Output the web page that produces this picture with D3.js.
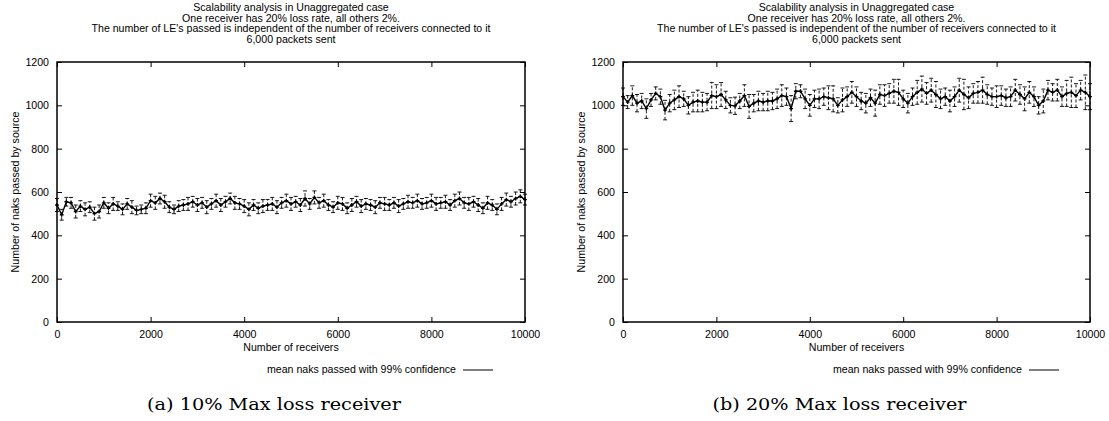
<!DOCTYPE html>
<html>
<head>
<meta charset="utf-8">
<script src="https://cdn.jsdelivr.net/npm/d3@7"></script>
<style>
  body { margin: 0; background: #fff; }
  svg { display: block; }
  .tick-label { font-family: "Liberation Sans", Arial, sans-serif; font-size: 10.6px; fill: #000; }
  .caption { font-family: "DejaVu Serif", serif; font-size: 16px; fill: #000; }
</style>
</head>
<body>
<script>
// x values (number of receivers)
var receivers = [0,100,200,300,400,500,600,700,800,900,1000,
    1100,1200,1300,1400,1500,1600,1700,1800,1900,2000,
    2100,2200,2300,2400,2500,2600,2700,2800,2900,3000,
    3100,3200,3300,3400,3500,3600,3700,3800,3900,4000,
    4100,4200,4300,4400,4500,4600,4700,4800,4900,5000,
    5100,5200,5300,5400,5500,5600,5700,5800,5900,6000,
    6100,6200,6300,6400,6500,6600,6700,6800,6900,7000,
    7100,7200,7300,7400,7500,7600,7700,7800,7900,8000,
    8100,8200,8300,8400,8500,8600,8700,8800,8900,9000,
    9100,9200,9300,9400,9500,9600,9700,9800,9900,10000];

// (a) 10% max loss receiver: mean naks and 99% half-width
var naks10 = [540,495,555,550,510,535,520,530,500,510,550,
    525,545,535,520,545,530,515,520,525,560,
    550,570,555,530,520,535,540,545,555,540,
    550,530,545,560,540,555,570,550,545,535,
    520,540,525,535,540,545,530,550,560,545,
    555,540,570,545,575,550,560,540,530,550,
    545,525,540,555,535,545,540,530,550,545,
    540,550,535,545,555,550,560,545,550,560,
    545,550,555,540,560,570,550,545,555,540,
    525,550,540,520,545,565,555,570,580,565];
var err10 = [30,25,20,25,30,25,30,25,30,30,25,
    25,30,20,25,25,30,20,20,25,30,
    30,25,30,25,20,25,25,30,25,30,
    25,30,25,30,30,25,25,30,25,30,
    30,25,25,30,25,30,30,25,30,30,
    25,30,35,25,30,25,30,25,25,30,
    30,25,30,25,30,25,25,30,25,30,
    25,25,30,25,30,25,30,25,25,30,
    30,25,30,25,30,30,25,30,25,30,
    25,30,25,25,30,30,25,30,30,25,30];

// (b) 20% max loss receiver
var naks20 = [1040,1015,1045,1010,1020,985,1025,1055,1040,978,1010,
    1025,1040,1030,1000,1015,1020,1015,1015,1045,1040,
    1050,1025,1000,998,1020,1045,995,1010,1020,1015,
    1020,1020,1030,1045,1040,985,1065,1065,1030,1000,
    1030,1030,1040,1035,1030,1000,1025,1040,1060,1040,
    1020,1010,1035,1010,1050,1045,1055,1065,1060,1030,
    1010,1040,1060,1075,1055,1070,1050,1030,1040,1020,
    1040,1070,1050,1035,1055,1060,1070,1050,1040,1040,
    1045,1035,1040,1070,1050,1030,1060,1040,1000,1020,
    1070,1060,1070,1040,1055,1060,1045,1070,1060,1040];
var err20 = [40,30,45,40,35,45,30,30,35,45,40,
    45,50,35,40,45,50,45,40,60,55,
    55,40,35,40,35,50,55,40,45,40,
    45,40,45,50,40,60,35,30,45,50,
    40,45,40,55,60,35,55,45,50,45,
    40,45,40,60,45,50,45,55,60,40,
    45,40,55,60,50,55,60,45,40,50,
    45,55,70,50,45,50,60,45,40,50,
    45,40,45,50,45,55,50,45,40,55,
    45,40,50,45,60,70,55,45,80,60,55];

var xTicks = [0,2000,4000,6000,8000,10000];
var yTicks = [0,200,400,600,800,1000,1200];
var titleLines = ["Scalability analysis in Unaggregated case",
    "One receiver has 20% loss rate, all others 2%.",
    "The number of LE's passed is independent of the number of receivers connected to it",
    "6,000 packets sent"];
var xLabel = "Number of receivers";
var yLabel = "Number of naks passed by source";
var legendText = "mean naks passed with 99% confidence";
var captions = ["(a) 10% Max loss receiver", "(b) 20% Max loss receiver"];

var width = 1109, height = 421;
var svg = d3.select("body").append("svg")
    .attr("width", width)
    .attr("height", height)
    .style("background", "#fff");

function drawPanel (left, right, means, errs, caption) {
    var top = 62, bottom = 322;
    var x = d3.scaleLinear().domain([0, 10000]).range([left, right]);
    var y = d3.scaleLinear().domain([0, 1200]).range([bottom, top]);
    var g = svg.append("g");
    var cx = (left + right) / 2;

    // title
    g.append("text")
        .attr("class", "tick-label")
        .attr("text-anchor", "middle")
        .selectAll("tspan")
        .data(titleLines)
        .enter().append("tspan")
        .attr("x", cx)
        .attr("y", function (d, i) { return 11 + i * 10.6; })
        .text(function (d) { return d; });

    // axes with inward ticks, mirrored
    var fmt = d3.format("d");
    var bottomAxis = d3.axisBottom(x).tickValues(xTicks).tickFormat(fmt).tickSizeInner(-5).tickSizeOuter(0).tickPadding(8);
    var topAxis = d3.axisTop(x).tickValues(xTicks).tickSizeInner(-5).tickSizeOuter(0).tickFormat("");
    var leftAxis = d3.axisLeft(y).tickValues(yTicks).tickFormat(fmt).tickSizeInner(-5).tickSizeOuter(0).tickPadding(8);
    var rightAxis = d3.axisRight(y).tickValues(yTicks).tickSizeInner(-5).tickSizeOuter(0).tickFormat("");

    var ax = [
        g.append("g").attr("transform", "translate(0," + bottom + ")").call(bottomAxis),
        g.append("g").attr("transform", "translate(0," + top + ")").call(topAxis),
        g.append("g").attr("transform", "translate(" + left + ",0)").call(leftAxis),
        g.append("g").attr("transform", "translate(" + right + ",0)").call(rightAxis)
    ];
    ax.forEach(function (a) {
        a.select(".domain").remove();
        a.attr("font-family", null).attr("font-size", null);
        a.selectAll("line").attr("stroke", "#000").attr("stroke-width", 1);
        a.selectAll("text").attr("class", "tick-label");
    });

    // frame
    g.append("rect")
        .attr("x", left).attr("y", top)
        .attr("width", right - left).attr("height", bottom - top)
        .attr("fill", "none").attr("stroke", "#000").attr("stroke-width", 1.5);

    // error bars
    var pts = receivers.map(function (r, i) { return { x: r, y: means[i], e: errs[i] }; });
    var eb = g.append("g").attr("class", "errorbars");
    eb.selectAll("line.bar").data(pts).enter().append("line")
        .attr("x1", function (d) { return x(d.x); })
        .attr("x2", function (d) { return x(d.x); })
        .attr("y1", function (d) { return y(d.y - d.e); })
        .attr("y2", function (d) { return y(d.y + d.e); })
        .attr("stroke", "#000").attr("stroke-width", 0.9)
        .attr("stroke-dasharray", "3,2");
    [-1, 1].forEach(function (s) {
        eb.selectAll("line.cap" + s).data(pts).enter().append("line")
            .attr("x1", function (d) { return x(d.x) - 2; })
            .attr("x2", function (d) { return x(d.x) + 2; })
            .attr("y1", function (d) { return y(d.y + s * d.e); })
            .attr("y2", function (d) { return y(d.y + s * d.e); })
            .attr("stroke", "#000").attr("stroke-width", 0.9);
    });

    // mean line
    var line = d3.line().x(function (d) { return x(d.x); }).y(function (d) { return y(d.y); });
    g.append("path").datum(pts)
        .attr("d", line)
        .attr("fill", "none").attr("stroke", "#000").attr("stroke-width", 1.4);

    // point markers
    g.selectAll("path.pt").data(pts).enter().append("path")
        .attr("d", d3.symbol(d3.symbolCross, 8))
        .attr("transform", function (d) { return "translate(" + x(d.x) + "," + y(d.y) + ")"; })
        .attr("fill", "#000");

    // axis labels
    g.append("text").attr("class", "tick-label")
        .attr("text-anchor", "middle")
        .attr("x", cx).attr("y", 351)
        .text(xLabel);
    g.append("text").attr("class", "tick-label")
        .attr("text-anchor", "middle")
        .attr("transform", "translate(" + (left - 38) + "," + ((top + bottom) / 2) + ") rotate(-90)")
        .text(yLabel);

    // legend
    var lx = left + 399;
    g.append("text").attr("class", "tick-label")
        .attr("text-anchor", "end")
        .attr("x", lx).attr("y", 373)
        .text(legendText);
    g.append("line")
        .attr("x1", lx + 7).attr("x2", lx + 37)
        .attr("y1", 370).attr("y2", 370)
        .attr("stroke", "#000").attr("stroke-width", 1);

    // caption
    g.append("text").attr("class", "caption")
        .attr("text-anchor", "middle")
        .attr("x", cx - 17).attr("y", 410)
        .attr("textLength", 254).attr("lengthAdjust", "spacingAndGlyphs")
        .text(caption);
}

drawPanel(57, 525, naks10, err10, captions[0]);
drawPanel(623, 1090, naks20, err20, captions[1]);
</script>
</body>
</html>
